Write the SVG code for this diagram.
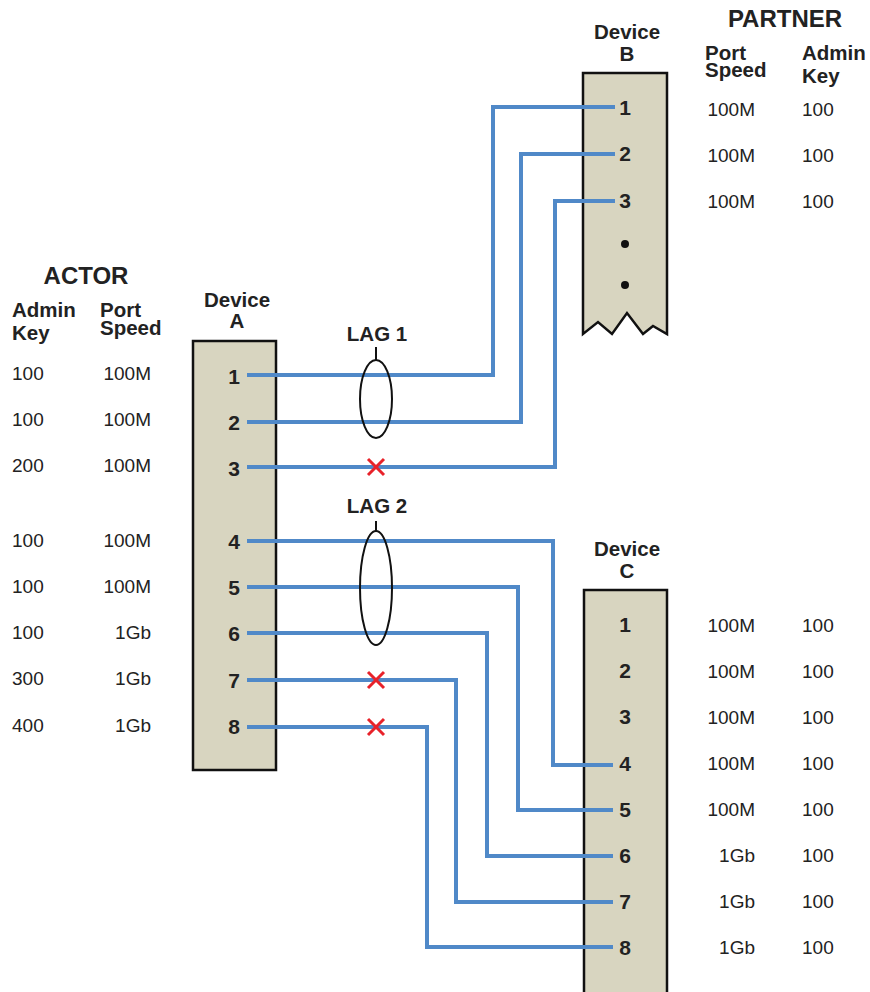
<svg xmlns="http://www.w3.org/2000/svg" width="870" height="992" viewBox="0 0 870 992">
<style>
.dev{fill:#d8d5c0;stroke:#111;stroke-width:2.5}
.hd{font-family:"Liberation Sans",Arial,sans-serif;font-weight:bold;fill:#222}
.big{font-size:24px}
.lab{font-size:20.5px}
.pn{font-family:"Liberation Sans",Arial,sans-serif;font-weight:bold;font-size:21px;fill:#222;text-anchor:middle}
.v{font-family:"Liberation Sans",Arial,sans-serif;font-size:19px;fill:#222}
.e{text-anchor:end}
.c{text-anchor:middle}
.ln{fill:none;stroke:#5089c8;stroke-width:4}
.lag{fill:none;stroke:#111;stroke-width:2}
.x{stroke:#e8222a;stroke-width:3}
</style>

<g id="actor-header">
<text class="hd big c" x="86" y="284">ACTOR</text>
<text class="hd lab" x="12" y="317">Admin</text>
<text class="hd lab" x="12" y="340">Key</text>
<text class="hd lab" x="100" y="317">Port</text>
<text class="hd lab" x="100" y="335">Speed</text>
</g>
<g id="actor-values">
<text class="v" x="12" y="380">100</text><text class="v e" x="151" y="380">100M</text>
<text class="v" x="12" y="426">100</text><text class="v e" x="151" y="426">100M</text>
<text class="v" x="12" y="472">200</text><text class="v e" x="151" y="472">100M</text>
<text class="v" x="12" y="547">100</text><text class="v e" x="151" y="547">100M</text>
<text class="v" x="12" y="593">100</text><text class="v e" x="151" y="593">100M</text>
<text class="v" x="12" y="639">100</text><text class="v e" x="151" y="639">1Gb</text>
<text class="v" x="12" y="685">300</text><text class="v e" x="151" y="685">1Gb</text>
<text class="v" x="12" y="732">400</text><text class="v e" x="151" y="732">1Gb</text>
</g>

<g id="partner-header">
<text class="hd big c" x="785" y="27">PARTNER</text>
<text class="hd lab" x="705" y="60">Port</text>
<text class="hd lab" x="705" y="77">Speed</text>
<text class="hd lab" x="802" y="60">Admin</text>
<text class="hd lab" x="802" y="83">Key</text>
</g>
<g id="partner-b-values">
<text class="v e" x="755" y="116">100M</text><text class="v" x="802" y="116">100</text>
<text class="v e" x="755" y="162">100M</text><text class="v" x="802" y="162">100</text>
<text class="v e" x="755" y="208">100M</text><text class="v" x="802" y="208">100</text>
</g>
<g id="partner-c-values">
<text class="v e" x="755" y="632">100M</text><text class="v" x="802" y="632">100</text>
<text class="v e" x="755" y="678">100M</text><text class="v" x="802" y="678">100</text>
<text class="v e" x="755" y="724">100M</text><text class="v" x="802" y="724">100</text>
<text class="v e" x="755" y="770">100M</text><text class="v" x="802" y="770">100</text>
<text class="v e" x="755" y="816">100M</text><text class="v" x="802" y="816">100</text>
<text class="v e" x="755" y="862">1Gb</text><text class="v" x="802" y="862">100</text>
<text class="v e" x="755" y="908">1Gb</text><text class="v" x="802" y="908">100</text>
<text class="v e" x="755" y="954">1Gb</text><text class="v" x="802" y="954">100</text>
</g>

<g id="device-a">
<text class="hd lab c" x="237" y="307">Device</text>
<text class="hd lab c" x="237" y="328">A</text>
<rect class="dev" x="193" y="341" width="83" height="429"/>
<text class="pn" x="234" y="384">1</text>
<text class="pn" x="234" y="430">2</text>
<text class="pn" x="234" y="476">3</text>
<text class="pn" x="234" y="549">4</text>
<text class="pn" x="234" y="595">5</text>
<text class="pn" x="234" y="641">6</text>
<text class="pn" x="234" y="688">7</text>
<text class="pn" x="234" y="734">8</text>
</g>

<g id="device-b">
<text class="hd lab c" x="627" y="39">Device</text>
<text class="hd lab c" x="627" y="61">B</text>
<path class="dev" d="M583,73 H667 V334 L653,326 L643,334 L627,313 L612,334 L598,322 L583,334 Z"/>
<text class="pn" x="625" y="115">1</text>
<text class="pn" x="625" y="161">2</text>
<text class="pn" x="625" y="208">3</text>
<circle cx="625" cy="244" r="4" fill="#111"/>
<circle cx="625" cy="285" r="4" fill="#111"/>
</g>

<g id="device-c">
<text class="hd lab c" x="627" y="556">Device</text>
<text class="hd lab c" x="627" y="578">C</text>
<rect class="dev" x="584" y="590" width="83" height="420"/>
<text class="pn" x="625" y="632">1</text>
<text class="pn" x="625" y="678">2</text>
<text class="pn" x="625" y="724">3</text>
<text class="pn" x="625" y="771">4</text>
<text class="pn" x="625" y="817">5</text>
<text class="pn" x="625" y="863">6</text>
<text class="pn" x="625" y="909">7</text>
<text class="pn" x="625" y="955">8</text>
</g>

<g id="connectors">
<polyline class="ln" points="247,375 493,375 493,107 615,107"/>
<polyline class="ln" points="247,422 521,422 521,154 615,154"/>
<polyline class="ln" points="247,467 555,467 555,201 615,201"/>
<polyline class="ln" points="247,541 553,541 553,765 613,765"/>
<polyline class="ln" points="247,587 518,587 518,810 613,810"/>
<polyline class="ln" points="247,633 487,633 487,856 613,856"/>
<polyline class="ln" points="247,680 456,680 456,902 613,902"/>
<polyline class="ln" points="247,727 427,727 427,947 613,947"/>
</g>

<g id="lag1">
<text class="hd lab c" x="377" y="341">LAG 1</text>
<line class="lag" x1="376" y1="347" x2="376" y2="360"/>
<ellipse class="lag" cx="376" cy="399" rx="16" ry="39"/>
</g>
<g id="lag2">
<text class="hd lab c" x="377" y="513">LAG 2</text>
<line class="lag" x1="376" y1="521" x2="376" y2="531"/>
<ellipse class="lag" cx="376" cy="588" rx="16" ry="57"/>
</g>

<g id="failures">
<path class="x" d="M368,459 L384,475 M384,459 L368,475"/>
<path class="x" d="M368,672 L384,688 M384,672 L368,688"/>
<path class="x" d="M368,719 L384,735 M384,719 L368,735"/>
</g>
</svg>
